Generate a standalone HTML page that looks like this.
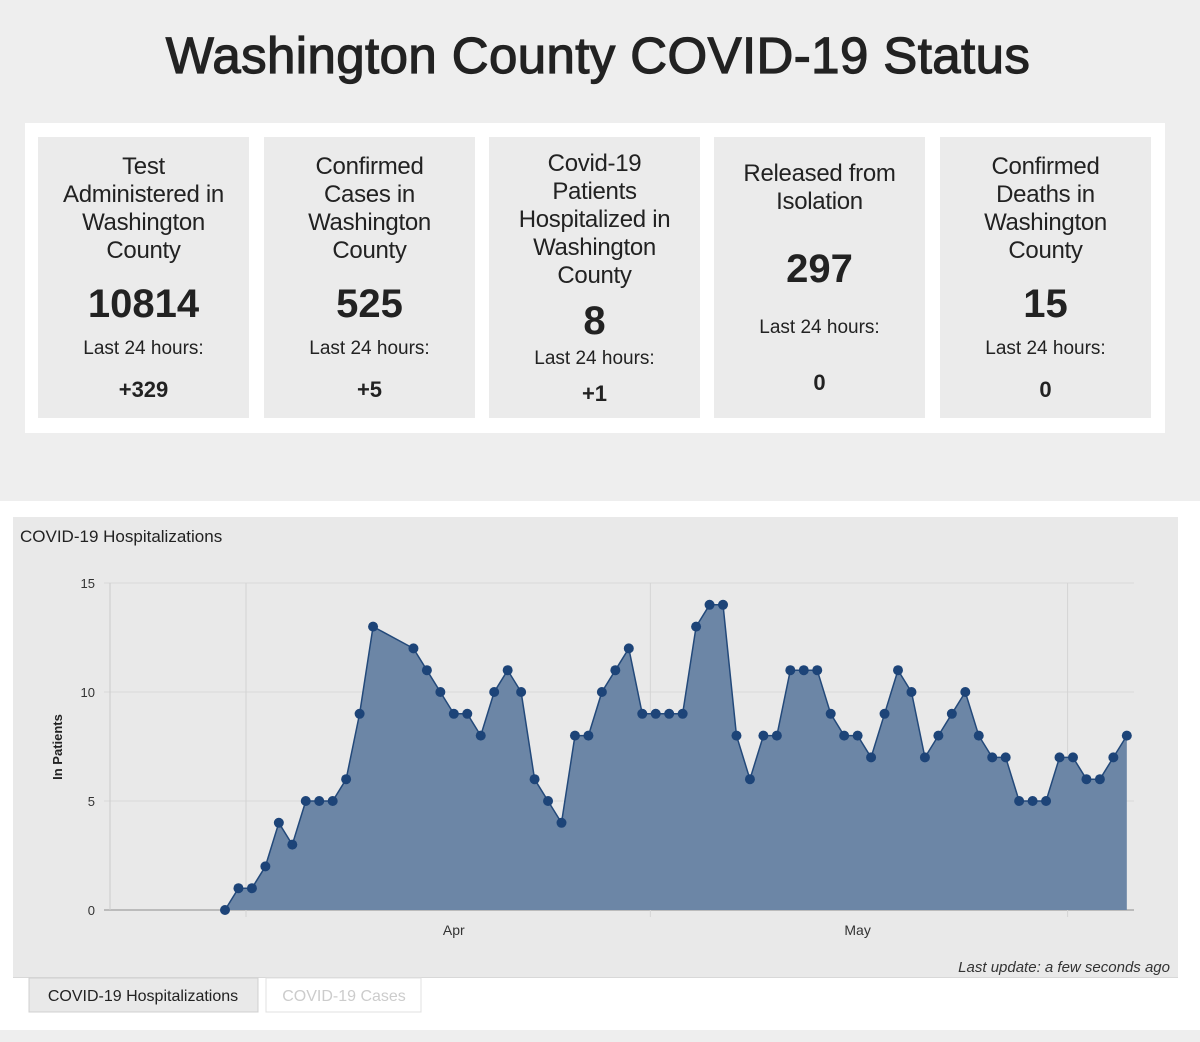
<!DOCTYPE html>
<html><head><meta charset="utf-8"><style>
body{margin:0;width:1200px;height:1042px;background:#eeeeee;font-family:"Liberation Sans",sans-serif;position:relative;overflow:hidden;color:#222}
.abs{position:absolute}
h1{position:absolute;left:0;width:1196px;top:26px;margin:0;text-align:center;font-size:51px;font-weight:normal;color:#222;letter-spacing:0.4px;-webkit-text-stroke:1.2px #222}
.card{position:absolute;top:137px;width:211px;height:281px;background:#ebebeb;text-align:center;color:#222}
.lbl{font-size:24px;line-height:28px;letter-spacing:-0.3px}
.num{font-size:40px;font-weight:bold;line-height:46px}
.l24{font-size:19px;line-height:24px}
.d{font-size:22px;font-weight:bold}
</style></head><body>
<h1>Washington County COVID-19 Status</h1>
<div class="abs" style="left:25px;top:123px;width:1140px;height:310px;background:#fff"></div>

<div class="card" style="left:38px">
 <div class="lbl abs" style="top:16px;width:100%">Test<br>Administered in<br>Washington<br>County</div>
 <div class="num abs" style="top:144px;width:100%">10814</div>
 <div class="l24 abs" style="top:200px;width:100%">Last 24 hours:</div>
 <div class="d abs" style="top:240px;width:100%">+329</div>
</div>
<div class="card" style="left:264px">
 <div class="lbl abs" style="top:16px;width:100%">Confirmed<br>Cases in<br>Washington<br>County</div>
 <div class="num abs" style="top:144px;width:100%">525</div>
 <div class="l24 abs" style="top:200px;width:100%">Last 24 hours:</div>
 <div class="d abs" style="top:240px;width:100%">+5</div>
</div>
<div class="card" style="left:489px">
 <div class="lbl abs" style="top:13px;width:100%">Covid-19<br>Patients<br>Hospitalized in<br>Washington<br>County</div>
 <div class="num abs" style="top:161px;width:100%">8</div>
 <div class="l24 abs" style="top:210px;width:100%">Last 24 hours:</div>
 <div class="d abs" style="top:244px;width:100%">+1</div>
</div>
<div class="card" style="left:714px">
 <div class="lbl abs" style="top:23px;width:100%">Released from<br>Isolation</div>
 <div class="num abs" style="top:109px;width:100%">297</div>
 <div class="l24 abs" style="top:179px;width:100%">Last 24 hours:</div>
 <div class="d abs" style="top:233px;width:100%">0</div>
</div>
<div class="card" style="left:940px">
 <div class="lbl abs" style="top:16px;width:100%">Confirmed<br>Deaths in<br>Washington<br>County</div>
 <div class="num abs" style="top:144px;width:100%">15</div>
 <div class="l24 abs" style="top:200px;width:100%">Last 24 hours:</div>
 <div class="d abs" style="top:240px;width:100%">0</div>
</div>

<div class="abs" style="left:0;top:501px;width:1200px;height:529px;background:#fff"></div>
<svg class="abs" style="left:0;top:0" width="1200" height="1042" font-family="Liberation Sans, sans-serif">
 <rect x="13" y="517" width="1165" height="460" fill="#e9e9e9"/>
 <text x="20" y="542" font-size="17" fill="#222">COVID-19 Hospitalizations</text>
 <g id="grid"></g>
 <g id="plot"></g>
 <text transform="translate(62,747) rotate(-90)" text-anchor="middle" font-size="13" font-weight="bold" fill="#222">In Patients</text>
 <text x="1170" y="972" text-anchor="end" font-size="15" font-style="italic" fill="#333">Last update: a few seconds ago</text>
 <line x1="13" y1="977.5" x2="1178" y2="977.5" stroke="#d8d8d8"/>
 <rect x="29" y="978" width="229" height="34" fill="#e9e9e9" stroke="#d0d0d0"/>
 <text x="143" y="1001" text-anchor="middle" font-size="16" fill="#222">COVID-19 Hospitalizations</text>
 <rect x="266" y="978" width="155" height="34" fill="#fff" stroke="#e0e0e0"/>
 <text x="344" y="1001" text-anchor="middle" font-size="16" fill="#ccc">COVID-19 Cases</text>
</svg>
<script>
const dayIndex=[0,1,2,3,4,5,6,7,8,9,10,11,14,15,16,17,18,19,20,21,22,23,24,25,26,27,28,29,30,31,32,33,34,35,36,37,38,39,40,41,42,43,44,45,46,47,48,49,50,51,52,53,54,55,56,57,58,59,60,61,62,63,64,65,66,67];
const patients=[0,1,1,2,4,3,5,5,5,6,9,13,12,11,10,9,9,8,10,11,10,6,5,4,8,8,10,11,12,9,9,9,9,13,14,14,8,6,8,8,11,11,11,9,8,8,7,9,11,10,7,8,9,10,8,7,7,5,5,5,7,7,6,6,7,8];
const yTicks=[0,5,10,15];
const monthLabels=["Apr","May"];
const monthGridDays=[1.56,31.6,62.6];
const monthLabelDays=[17,47];
const NS="http://www.w3.org/2000/svg";
function x(d){return 225+d*13.46;}
function y(v){return 910-v*21.8;}
function mk(t,a,p){const e=document.createElementNS(NS,t);for(const k in a)e.setAttribute(k,a[k]);p.appendChild(e);return e;}
const grid=document.getElementById('grid'),plot=document.getElementById('plot');
yTicks.forEach(v=>{
 const l=mk('line',{x1:104,x2:1134,y1:y(v),y2:y(v),stroke:v==0?'#bbb':'#d9d9d9','stroke-width':v==0?2:1},grid);
 
 
 const t=mk('text',{x:95,y:y(v)+5,'text-anchor':'end','font-size':13,fill:'#333'},grid);
 t.textContent=v;
 
 
});
mk('line',{x1:110,x2:110,y1:583,y2:910,stroke:'#ccc'},grid);
monthGridDays.forEach(d=>{
 const l=mk('line',{x1:x(d),x2:x(d),y1:583,y2:917,stroke:'#d4d4d4'},grid);
 
 
});
monthLabels.forEach((m,i)=>{
 const t=mk('text',{x:x(monthLabelDays[i]),y:935,'text-anchor':'middle','font-size':14,fill:'#333'},grid);
 t.textContent=m;
 
 
});
let pts=dayIndex.map((d,i)=>x(d)+','+y(patients[i]));
const area=mk('polygon',{points:x(dayIndex[0])+','+y(0)+' '+pts.join(' ')+' '+x(dayIndex[dayIndex.length-1])+','+y(0),fill:'#6c86a6'},plot);


const line=mk('polyline',{points:pts.join(' '),fill:'none',stroke:'#23497a','stroke-width':1.5},plot);


dayIndex.forEach((d,i)=>{
 const c=mk('circle',{cx:x(d),cy:y(patients[i]),r:5,fill:'#1d4478'},plot);
 
 
});
</script>
</body></html>
